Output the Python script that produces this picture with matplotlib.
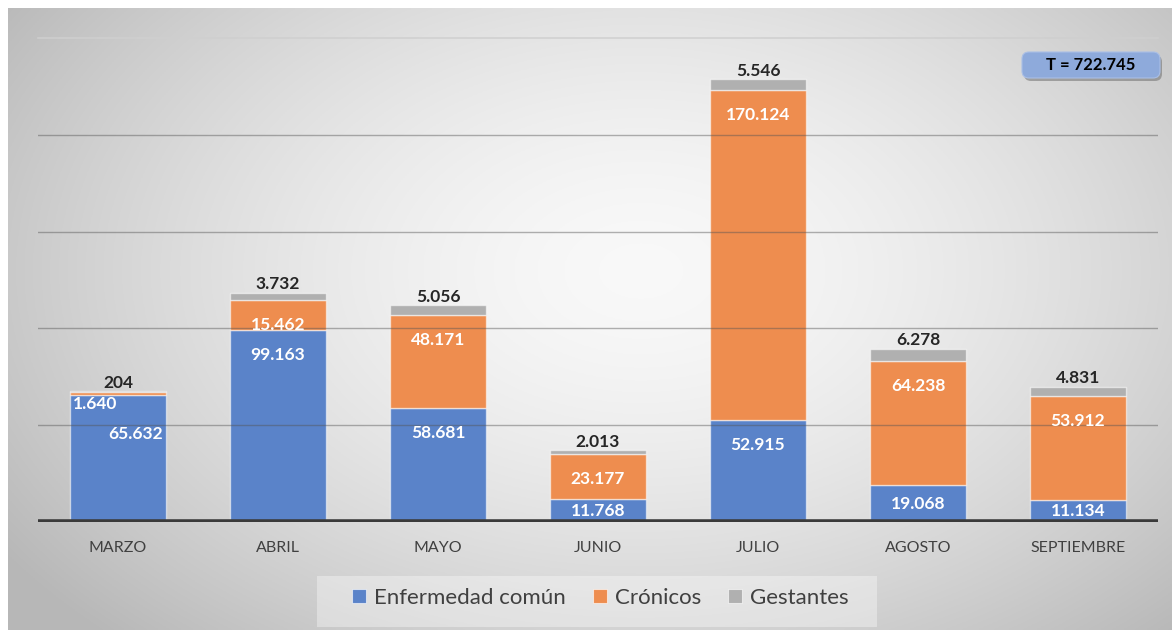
import numpy as np
import matplotlib
matplotlib.use("Agg")
import matplotlib.pyplot as plt
from matplotlib.patches import FancyBboxPatch, Rectangle
from matplotlib.lines import Line2D

plt.rcParams['font.family'] = ['Lato', 'DejaVu Sans']

months = ['MARZO', 'ABRIL', 'MAYO', 'JUNIO', 'JULIO', 'AGOSTO', 'SEPTIEMBRE']
enfermedad = [65632, 99163, 58681, 11768, 52915, 19068, 11134]
cronicos = [1640, 15462, 48171, 23177, 170124, 64238, 53912]
gestantes = [204, 3732, 5056, 2013, 5546, 6278, 4831]
series_names = ['Enfermedad común', 'Crónicos', 'Gestantes']

c_blue = '#5a83c9'
c_orange = '#ee8d4f'
c_gray = '#b0b0b0'

W, H = 1172, 630
fig = plt.figure(figsize=(W / 100, H / 100), dpi=100)
fig.patch.set_facecolor('white')

# gradient background panel
bg = fig.add_axes([8 / W, 0, 1 - 8 / W, 1 - 8 / H])
bg.set_axis_off()
ny, nx = 300, 560
yy, xx = np.mgrid[0:ny, 0:nx]
px = xx / nx * (W - 8) + 8
py = yy / ny * (H - 8) + 8
r = np.sqrt(((px - 640) / 640) ** 2 + ((py - 270) / 420) ** 2)
val = 0.975 - 0.19 * np.clip(r, 0, 1.2) ** 1.6
img = np.dstack([val, val, val])
bg.imshow(img, aspect='auto', extent=[0, 1, 0, 1], origin='upper', zorder=0)
bg.set_xlim(0, 1)
bg.set_ylim(0, 1)

ax_left, ax_right = 38 / W, 1158 / W
ax_bottom, ax_top = (H - 522) / H, (H - 38) / H
ax = fig.add_axes([ax_left, ax_bottom, ax_right - ax_left, ax_top - ax_bottom])
ax.patch.set_alpha(0)
ymax = 250000
ax.set_ylim(0, ymax)
ax.set_xlim(-0.5, len(months) - 0.5)

x = np.arange(len(months))
enf = np.array(enfermedad)
cro = np.array(cronicos)
ges = np.array(gestantes)
w = 0.6
ec = (1, 1, 1, 0.55)
ax.bar(x, enf, w, color=c_blue, edgecolor=ec, linewidth=1, zorder=2)
ax.bar(x, cro, w, bottom=enf, color=c_orange, edgecolor=ec, linewidth=1, zorder=2)
ax.bar(x, ges, w, bottom=enf + cro, color=c_gray, edgecolor=ec, linewidth=1, zorder=2)

# gridlines
for gv in [50000, 100000, 150000, 200000]:
    ax.axhline(gv, color='#555555', alpha=0.45, lw=1, zorder=3)
ax.axhline(250000, color='#cfcfcf', alpha=0.9, lw=1.2, zorder=1, clip_on=False)
ax.axhline(0, color='#3a3a3a', lw=4, zorder=4)

for s in ax.spines.values():
    s.set_visible(False)
ax.set_yticks([])
ax.set_xticks(x)
ax.set_xticklabels(months, fontsize=11.5, color='#404040')
ax.tick_params(axis='x', length=0, pad=14)

def fmt(v):
    return f"{v:,}".replace(',', '.')

px_per_unit = (522 - 38) / ymax
off = 25 / px_per_unit  # 25 px in data units

lab_kw = dict(fontsize=12.5, fontweight='bold', color='white', zorder=5)
for i in range(len(months)):
    top_b = enf[i]
    top_c = enf[i] + cro[i]
    total = top_c + ges[i]
    if i == 0:
        ax.annotate(fmt(cro[i]), (x[i] - w / 2, top_c), xytext=(2, -9),
                    textcoords='offset points', ha='left', va='center', **lab_kw)
        ax.annotate(fmt(enf[i]), (x[i], top_b), xytext=(13, -28),
                    textcoords='offset points', ha='center', va='center', **lab_kw)
    else:
        yb = max(top_b - off, top_b / 2)
        ax.text(x[i], yb, fmt(enf[i]), ha='center', va='center', **lab_kw)
        ax.text(x[i], top_c - off, fmt(cro[i]), ha='center', va='center', **lab_kw)
    ax.annotate(fmt(ges[i]), (x[i], total), xytext=(0, 2.5), textcoords='offset points',
                ha='center', va='baseline', fontsize=12.5, fontweight='bold', color='#262626', zorder=5)

# total box
T = int(enf.sum() + cro.sum() + ges.sum())
bx0, by0, bw, bh = 1022 / W, 1 - 78 / H, 138 / W, 26 / H
shadow = FancyBboxPatch((bx0 + 2 / W, by0 - 3 / H), bw, bh, boxstyle='round,pad=0,rounding_size=0.006',
                        transform=fig.transFigure, facecolor='#666666', alpha=0.5, edgecolor='none',
                        mutation_aspect=W / H)
fig.patches.append(shadow)
box = FancyBboxPatch((bx0, by0), bw, bh, boxstyle='round,pad=0,rounding_size=0.006',
                     transform=fig.transFigure, facecolor='#8eaadb', edgecolor='#a9bfe6', lw=0.8,
                     mutation_aspect=W / H)
fig.patches.append(box)
fig.text(bx0 + bw / 2, by0 + bh / 2, f"T = {fmt(T)}", ha='center', va='center',
         fontsize=12, fontweight='bold', color='black')

# legend background
lb = Rectangle((317 / W, 1 - 627 / H), (877 - 317) / W, 51 / H, transform=fig.transFigure,
               facecolor='white', alpha=0.35, edgecolor='none')
fig.patches.append(lb)
handles = [Line2D([], [], marker='s', linestyle='none', markersize=10, markerfacecolor=c,
                  markeredgecolor=(1, 1, 1, 0.6), markeredgewidth=0.8)
           for c in [c_blue, c_orange, c_gray]]
leg = fig.legend(handles, series_names, loc='center', bbox_to_anchor=(600 / W, 1 - 598 / H),
                 ncol=3, frameon=False, fontsize=16, handlelength=0.7, handletextpad=0.3,
                 columnspacing=1.2, borderpad=0)
for t in leg.get_texts():
    t.set_color('#404040')

fig.savefig('out.png', dpi=100)
